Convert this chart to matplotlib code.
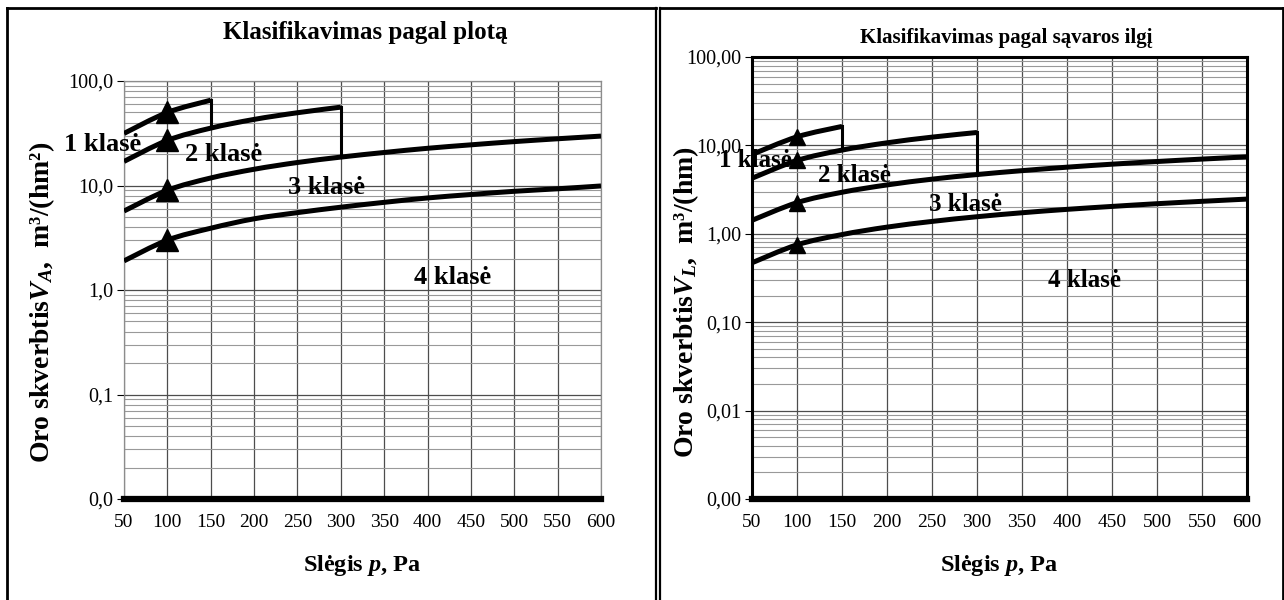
import matplotlib
matplotlib.use("Agg")
import matplotlib.pyplot as plt
import numpy as np
from matplotlib.lines import Line2D
from matplotlib.patches import PathPatch
from matplotlib.path import Path
from matplotlib.ticker import FixedLocator, LogLocator, NullFormatter

plt.rcParams["font.family"] = ["Liberation Serif", "DejaVu Serif"]
plt.rcParams["mathtext.fontset"] = "custom"
plt.rcParams["mathtext.rm"] = "Liberation Serif"
plt.rcParams["mathtext.it"] = "Liberation Serif:italic"
plt.rcParams["mathtext.bf"] = "Liberation Serif:bold"
plt.rcParams["mathtext.bfit"] = "Liberation Serif:italic:bold"

# pressure, Pa
PRESSURE = [50, 100, 150, 200, 250, 300, 350, 400, 450, 500, 550, 600]
MARK_PRESSURE = 100

# by area, m3/(h m2)
AREA_CLASS1 = [31.5, 50.0, 65.5]
AREA_CLASS2 = [17.0, 27.0, 35.4, 42.9, 49.7, 56.2]
AREA_CLASS3 = [5.7, 9.0, 11.8, 14.3, 16.6, 18.7, 20.7, 22.7, 24.5, 26.3, 28.0, 29.7]
AREA_CLASS4 = [1.9, 3.0, 3.9, 4.8, 5.5, 6.2, 6.9, 7.6, 8.2, 8.8, 9.3, 9.9]
AREA_TICKS = [0.01, 0.1, 1, 10, 100]
AREA_TICK_LABELS = ["0,0", "0,1", "1,0", "10,0", "100,0"]

# by joint length, m3/(h m)
LENGTH_CLASS1 = [7.9, 12.5, 16.4]
LENGTH_CLASS2 = [4.25, 6.75, 8.85, 10.7, 12.4, 14.0]
LENGTH_CLASS3 = [1.42, 2.25, 2.95, 3.57, 4.15, 4.68, 5.18, 5.67, 6.13, 6.57, 7.0, 7.42]
LENGTH_CLASS4 = [0.47, 0.75, 0.98, 1.19, 1.38, 1.56, 1.73, 1.89, 2.04, 2.19, 2.33, 2.47]
LENGTH_TICKS = [0.001, 0.01, 0.1, 1, 10, 100]
LENGTH_TICK_LABELS = ["0,00", "0,01", "0,10", "1,00", "10,00", "100,00"]

CLASS_NAMES = ["1 klasė", "2 klasė", "3 klasė", "4 klasė"]
AREA_LABEL_POS = [(25, 24.5), (165, 19.6), (284, 9.5), (429, 1.33)]
LENGTH_LABEL_POS = [(54, 6.76), (164, 4.6), (287, 2.17), (420, 0.30)]

W, H = 1284, 600


def smooth_curve(xs, ys):
    # Catmull-Rom style bezier in (p, log V) space, like a spreadsheet smoothed line
    x = np.asarray(xs, dtype=float)
    y = np.log10(np.asarray(ys, dtype=float))
    xp = np.concatenate([[x[0]], x, [x[-1]]])
    yp = np.concatenate([[y[0]], y, [y[-1]]])
    verts = [(x[0], 10 ** y[0])]
    codes = [Path.MOVETO]
    for i in range(len(x) - 1):
        c1 = (x[i] + (xp[i + 2] - xp[i]) / 6, y[i] + (yp[i + 2] - yp[i]) / 6)
        c2 = (x[i + 1] - (xp[i + 3] - xp[i + 1]) / 6, y[i + 1] - (yp[i + 3] - yp[i + 1]) / 6)
        verts += [(c1[0], 10 ** c1[1]), (c2[0], 10 ** c2[1]), (x[i + 1], 10 ** y[i + 1])]
        codes += [Path.CURVE4] * 3
    return Path(verts, codes)


def draw_panel(ax, classes, ticks, tick_labels, label_pos, boxed, marker_size, label_size):
    ax.set_yscale("log")
    ax.set_xlim(PRESSURE[0], PRESSURE[-1])
    ax.set_ylim(ticks[0], ticks[-1])
    ax.set_xticks(PRESSURE)
    ax.yaxis.set_major_locator(FixedLocator(ticks))
    ax.set_yticklabels(tick_labels)
    ax.yaxis.set_minor_locator(LogLocator(base=10, subs=np.arange(2, 10)))
    ax.yaxis.set_minor_formatter(NullFormatter())
    ax.grid(which="major", color="#4d4d4d", lw=0.9)
    ax.grid(which="minor", axis="y", color="#999999", lw=0.8)
    ax.set_axisbelow(True)
    ax.tick_params(axis="x", length=0, pad=11, labelsize=14)
    ax.tick_params(axis="y", which="major", length=5, direction="out", labelsize=14.5, pad=3)
    ax.tick_params(axis="y", which="minor", length=0)

    for spine in ax.spines.values():
        if boxed:
            spine.set_color("black")
            spine.set_linewidth(2.2)
        else:
            spine.set_color("#8c8c8c")
            spine.set_linewidth(0.9)
    ax.spines["bottom"].set_color("black")
    ax.spines["bottom"].set_linewidth(4.5)

    for values in classes:
        xs = PRESSURE[: len(values)]
        ax.add_patch(PathPatch(smooth_curve(xs, values), fill=False, lw=3.6,
                               edgecolor="black", capstyle="butt", joinstyle="round", zorder=3))
        idx = PRESSURE.index(MARK_PRESSURE)
        ax.plot([MARK_PRESSURE], [values[idx]], marker="^", ms=marker_size,
                color="black", ls="none", zorder=4)

    # drop lines where class 1 and 2 end
    for upper, lower in zip(classes[:2], classes[1:3]):
        k = len(upper) - 1
        ax.plot([PRESSURE[k], PRESSURE[k]], [upper[k], lower[k]], color="black", lw=2.2, zorder=3)

    for name, (px, py) in zip(CLASS_NAMES, label_pos):
        ax.text(px, py, name, ha="center", va="center", fontsize=label_size,
                fontweight="bold", zorder=5)

    ax.set_xlabel(r"Slėgis $\mathbfit{p}$, Pa", fontsize=17.5, fontweight="bold", labelpad=16)


fig = plt.figure(figsize=(W / 100, H / 100), dpi=100)

ax_left = fig.add_axes([124 / W, 1 - 499 / H, 477 / W, 418 / H])
draw_panel(ax_left, [AREA_CLASS1, AREA_CLASS2, AREA_CLASS3, AREA_CLASS4],
           AREA_TICKS, AREA_TICK_LABELS, AREA_LABEL_POS, False, 16, 19)
fig.text(42 / W, 1 - 302 / H, "Oro skverbtis$\\mathbfit{V_A}$,  m³/(hm²)", rotation=90,
         ha="center", va="center", fontsize=20, fontweight="bold")
fig.text(365 / W, 1 - 33 / H, "Klasifikavimas pagal plotą", ha="center", va="center",
         fontsize=18, fontweight="bold")

ax_right = fig.add_axes([752 / W, 1 - 499 / H, 495 / W, 442 / H])
draw_panel(ax_right, [LENGTH_CLASS1, LENGTH_CLASS2, LENGTH_CLASS3, LENGTH_CLASS4],
           LENGTH_TICKS, LENGTH_TICK_LABELS, LENGTH_LABEL_POS, True, 11, 18)
fig.text(686 / W, 1 - 302 / H, "Oro skverbtis$\\mathbfit{V_L}$,  m³/(hm)", rotation=90,
         ha="center", va="center", fontsize=20, fontweight="bold")
fig.text(1006 / W, 1 - 38 / H, "Klasifikavimas pagal sąvaros ilgį", ha="center",
         va="center", fontsize=15, fontweight="bold")


# table cell borders around the two charts
def fig_line(x0, y0, x1, y1, lw=2.0):
    fig.add_artist(Line2D([x0 / W, x1 / W], [1 - y0 / H, 1 - y1 / H],
                          color="black", lw=lw, transform=fig.transFigure))


fig_line(7, 8, 656, 8)
fig_line(7, 8, 7, 600)
fig_line(656, 8, 656, 600, lw=1.6)
fig_line(660, 8, 660, 600, lw=1.6)
fig_line(660, 8, 1283, 8)
fig_line(1283, 8, 1283, 600)

fig.savefig("out.png", dpi=100)
